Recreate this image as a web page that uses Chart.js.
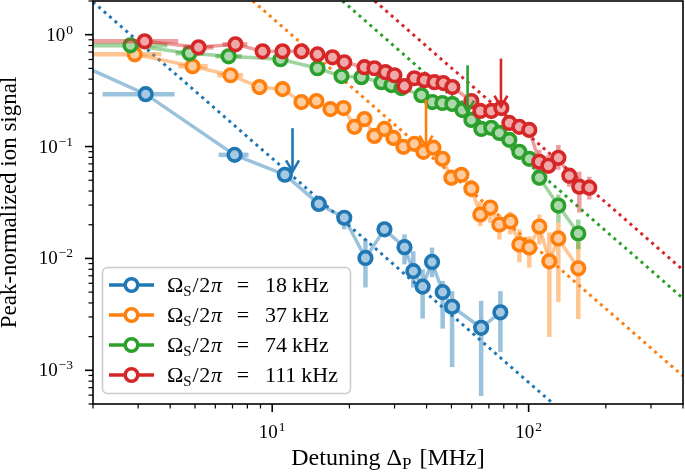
<!DOCTYPE html>
<html>
<head>
<meta charset="utf-8">
<script src="https://cdn.jsdelivr.net/npm/chart.js@4.4.0/dist/chart.umd.min.js"></script>
<style>
  html, body { margin: 0; padding: 0; background: #fff; }
  #chart { display: block; }
</style>
</head>
<body>
<canvas id="chart" width="685" height="472"></canvas>
<script>
// Detuning [MHz] vs peak-normalized ion signal, one set per Rabi frequency
const rabiKHz = ['18', '37', '74', '111'];

const blueDetuning = [1.44, 3.21, 7.13, 11.2, 15.2, 19.1, 23.1, 27.4, 32.8, 35.5, 38.6, 42.0, 46.2, 50.3, 65.3, 77.6];
const blueSignal = [0.67, 0.294, 0.0843, 0.056, 0.0307, 0.0231, 0.0101, 0.0182, 0.0126, 0.0077, 0.0056, 0.0093, 0.0050, 0.0037, 0.0024, 0.0033];
const blueSignalErr = [null, null, null, [0.0495, 0.0608], [0.0283, 0.0334], [0.0182, 0.0263], [0.0055, 0.0148], [0.0164, 0.0201],
  [0.00886, 0.0164], [0.0055, 0.0116], [0.0029, 0.0080], [0.0068, 0.0125], [0.00236, 0.0063], [0.00107, 0.0051], [0.00059, 0.00418], [0.00146, 0.0051]];
const blueDetuningErr = [null, [2.18, 4.16], [6.18, 8.08]];

const orangeDetuning = [2.91, 4.89, 6.88, 8.92, 10.97, 13.0, 14.88, 16.87, 18.97, 20.93, 22.89, 25.04, 27.4, 29.7, 32.49, 35.85,
  38.87, 42.52, 46.1, 49.96, 54.68, 59.8, 64.81, 70.9, 76.88, 84.86, 92.0, 100.6, 110.1, 120.4, 130.6, 156.2];
const orangeSignal = [0.667, 0.522, 0.434, 0.340, 0.326, 0.250, 0.255, 0.216, 0.221, 0.150, 0.176, 0.1245, 0.1437, 0.1195, 0.0994, 0.1057,
  0.0897, 0.0977, 0.0777, 0.0527, 0.056, 0.0420, 0.0247, 0.0285, 0.0201, 0.0214, 0.01334, 0.01255, 0.0193, 0.00942, 0.0151, 0.00816];
const orangeSignalErr = [null, null, null, null, null, null, null, null, null, null, null, null, null, null, null, null,
  null, null, null, [0.0447, 0.0572], [0.0506, 0.0621], [0.0350, 0.0506], [0.0194, 0.0324], [0.0208, 0.0324], [0.0148, 0.0247], [0.0164, 0.0262],
  [0.00925, 0.0182], [0.00828, 0.0158], [0.01334, 0.0247], [0.00199, 0.0171], [0.00407, 0.0210], [0.00287, 0.0139]];
const orangeDetuningErr = [[1.95, 3.7], [4.3, 5.6], [6.1, 7.7]];

const greenDetuning = [2.80, 4.76, 6.76, 10.77, 15.02, 18.63, 22.28, 26.67, 29.17, 31.91, 38.18, 42.14, 46.1, 50.41, 55.17, 59.8,
  65.4, 71.53, 76.88, 84.1, 92.0, 100.6, 110.1, 130.6, 156.2];
const greenSignal = [0.803, 0.682, 0.641, 0.603, 0.501, 0.426, 0.417, 0.376, 0.354, 0.333, 0.288, 0.250, 0.245, 0.240, 0.212, 0.173,
  0.1437, 0.147, 0.1324, 0.1147, 0.0897, 0.0777, 0.0527, 0.0297, 0.0167];
const greenSignalErr = [null, null, null, null, null, null, null, null, null, null, null, null, null, null, null, null,
  null, null, null, null, null, null, [0.0447, 0.0572], [0.0210, 0.0372], [0.0121, 0.0223]];
const greenDetuningErr = [[1.95, 3.9], [4.2, 5.4], [6.0, 7.6]];

const redDetuning = [3.18, 5.16, 7.19, 9.17, 10.97, 13.0, 15.02, 17.18, 19.1, 22.89, 25.04, 27.65, 29.97, 32.78, 35.85, 39.22,
  42.91, 46.52, 50.41, 59.8, 64.81, 71.53, 78.28, 84.1, 92.0, 100.6, 110.1, 119.4, 130.6, 144.1, 157.6, 172.4];
const redSignal = [0.872, 0.771, 0.820, 0.710, 0.710, 0.710, 0.667, 0.628, 0.567, 0.512, 0.501, 0.462, 0.434, 0.347, 0.408, 0.392,
  0.376, 0.369, 0.340, 0.255, 0.208, 0.208, 0.221, 0.1625, 0.150, 0.1408, 0.0731, 0.0673, 0.0793, 0.0549, 0.0438, 0.0429];
const redSignalErr = [null, null, null, null, null, null, null, null, null, null, null, null, null, null, null, null,
  null, null, null, null, null, null, null, null, null, null, [0.0621, 0.0935], [0.0596, 0.0844], [0.0621, 0.1035], [0.0438, 0.0596], [0.0257, 0.0596], [0.0336, 0.0537]];
const redDetuningErr = [[1.95, 4.3], [4.5, 5.9], [6.4, 8.0]];

// dotted power-law guides: start and end points
const fitStart = [[2.0, 1.96], [8.4, 2.0], [18.8, 2.0], [25.1, 2.0]];
const fitEnd = [[125, 5.0e-4], [400, 8.9e-4], [400, 4.4e-3], [400, 7.9e-3]];

// arrows marking the characteristic detuning
const arrowDetuning = [12.0, 39.8, 57.8, 78.0];
const arrowFrom = [0.146, 0.264, 0.533, 0.612];
const arrowTo = [0.060, 0.100, 0.205, 0.227];

const xMajorTicks = [10, 100];
const yMajorTicks = [1e-3, 1e-2, 1e-1, 1];

const colors = ['#1f77b4', '#ff7f0e', '#2ca02c', '#d62728'];
const rgbs = [[31, 119, 180], [255, 127, 14], [44, 160, 44], [214, 39, 40]];
const FONT = '"Liberation Serif", "Times New Roman", serif';

function rgba(c, a) { return 'rgba(' + c[0] + ',' + c[1] + ',' + c[2] + ',' + a + ')'; }
function pale(c) { return 'rgb(' + c.map(v => Math.round(255 * 0.6 + v * 0.4)).join(',') + ')'; }

function series(i, xs, ys, yErr, xErr) {
    return {
        data: xs.map((x, k) => ({ x: x, y: ys[k] })),
        borderColor: rgba(rgbs[i], 0.45),
        borderWidth: 3.5,
        pointRadius: 6.3,
        pointHoverRadius: 6.3,
        pointBorderWidth: 3.6,
        pointBorderColor: colors[i],
        pointBackgroundColor: pale(rgbs[i]),
        tension: 0,
        fill: false,
        clip: 0,
        order: 4 - i,
        errY: yErr,
        errX: xErr,
        errColor: rgba(rgbs[i], 0.45)
    };
}

function fitLine(i) {
    return {
        data: [{ x: fitStart[i][0], y: fitStart[i][1] }, { x: fitEnd[i][0], y: fitEnd[i][1] }],
        borderColor: colors[i],
        borderWidth: 3,
        borderDash: [3, 4.2],
        pointRadius: 0,
        fill: false,
        clip: 0,
        order: 10 + i
    };
}

function logTicks(min, max) {
    const out = [];
    for (let e = Math.floor(Math.log10(min)); e <= Math.ceil(Math.log10(max)); e++) {
        for (let k = 1; k <= 9; k++) {
            const v = k * Math.pow(10, e);
            if (v >= min * 0.999 && v <= max * 1.001) out.push({ value: v, major: k === 1 });
        }
    }
    return out;
}

// error bars, drawn under each series' markers
const errorBars = {
    id: 'errorBars',
    beforeDatasetDraw(chart, args) {
        const ds = chart.data.datasets[args.index];
        if (!ds.errY && !ds.errX) return;
        const ctx = chart.ctx, a = chart.chartArea;
        const xs = chart.scales.x, ys = chart.scales.y;
        ctx.save();
        ctx.beginPath();
        ctx.rect(a.left, a.top, a.right - a.left, a.bottom - a.top);
        ctx.clip();
        ctx.strokeStyle = ds.errColor;
        ctx.lineWidth = 4.5;
        ds.data.forEach((p, k) => {
            const px = xs.getPixelForValue(p.x), py = ys.getPixelForValue(p.y);
            const ey = ds.errY && ds.errY[k];
            if (ey) {
                ctx.beginPath();
                ctx.moveTo(px, ys.getPixelForValue(ey[0]));
                ctx.lineTo(px, ys.getPixelForValue(ey[1]));
                ctx.stroke();
            }
            const ex = ds.errX && ds.errX[k];
            if (ex) {
                ctx.beginPath();
                ctx.moveTo(xs.getPixelForValue(ex[0]), py);
                ctx.lineTo(xs.getPixelForValue(ex[1]), py);
                ctx.stroke();
            }
        });
        ctx.restore();
    }
};

function drawPow(ctx, x, y, exp, align) {
    ctx.font = '19px ' + FONT;
    const wBase = ctx.measureText('10').width;
    ctx.font = '13.5px ' + FONT;
    const wExp = ctx.measureText(exp).width;
    const total = wBase + 1 + wExp;
    const start = align === 'center' ? x - total / 2 : x - total;
    ctx.textAlign = 'left';
    ctx.textBaseline = 'alphabetic';
    ctx.font = '19px ' + FONT;
    ctx.fillText('10', start, y);
    ctx.font = '13.5px ' + FONT;
    ctx.fillText(exp, start + wBase + 1, y - 7);
}

function drawPieces(ctx, pieces, x, y) {
    pieces.forEach(p => {
        ctx.font = p.font;
        ctx.fillText(p.text, x, y + (p.dy || 0));
        x += ctx.measureText(p.text).width + (p.gap || 0);
    });
    return x;
}
function piecesWidth(ctx, pieces) {
    let w = 0;
    pieces.forEach(p => { ctx.font = p.font; w += ctx.measureText(p.text).width + (p.gap || 0); });
    return w;
}

const frame = {
    id: 'frame',
    afterDatasetsDraw(chart) {
        const ctx = chart.ctx, xs = chart.scales.x, ys = chart.scales.y;
        ctx.save();
        arrowDetuning.forEach((d, i) => {
            const x = xs.getPixelForValue(d);
            const y0 = ys.getPixelForValue(arrowFrom[i]), y1 = ys.getPixelForValue(arrowTo[i]);
            ctx.strokeStyle = colors[i];
            ctx.lineWidth = 2.6;
            ctx.beginPath(); ctx.moveTo(x, y0); ctx.lineTo(x, y1); ctx.stroke();
            ctx.beginPath(); ctx.moveTo(x - 6.5, y1 - 11); ctx.lineTo(x, y1); ctx.lineTo(x + 6.5, y1 - 11); ctx.stroke();
        });
        ctx.restore();
    },
    afterDraw(chart) {
        const ctx = chart.ctx, a = chart.chartArea;
        const xs = chart.scales.x, ys = chart.scales.y;
        ctx.save();
        ctx.fillStyle = '#000';
        ctx.strokeStyle = '#000';

        // ticks
        xs.ticks.forEach(t => {
            const px = xs.getPixelForValue(t.value);
            ctx.lineWidth = t.major ? 1.6 : 1.2;
            ctx.beginPath(); ctx.moveTo(px, a.bottom); ctx.lineTo(px, a.bottom + (t.major ? 8 : 4.5)); ctx.stroke();
        });
        ys.ticks.forEach(t => {
            const py = ys.getPixelForValue(t.value);
            ctx.lineWidth = t.major ? 1.6 : 1.2;
            ctx.beginPath(); ctx.moveTo(a.left, py); ctx.lineTo(a.left - (t.major ? 8 : 4.5), py); ctx.stroke();
        });
        xMajorTicks.forEach(v => {
            drawPow(ctx, xs.getPixelForValue(v), 438, String(Math.round(Math.log10(v))), 'center');
        });
        yMajorTicks.forEach(v => {
            const e = Math.round(Math.log10(v));
            drawPow(ctx, 73, ys.getPixelForValue(v) + 6, e < 0 ? '\u2212' + (-e) : String(e), 'right');
        });

        // spines
        ctx.lineWidth = 1.6;
        ctx.strokeRect(a.left, a.top, a.right - a.left, a.bottom - a.top);

        // axis titles
        ctx.textAlign = 'left';
        ctx.textBaseline = 'alphabetic';
        const xt = [
            { text: 'Detuning \u0394', font: '24px ' + FONT },
            { text: 'P', font: '17px ' + FONT, dy: 4, gap: 8 },
            { text: '[MHz]', font: '24px ' + FONT }
        ];
        const xw = piecesWidth(ctx, xt);
        drawPieces(ctx, xt, (a.left + a.right) / 2 - xw / 2, 465);

        ctx.save();
        ctx.translate(16, (a.top + a.bottom) / 2);
        ctx.rotate(-Math.PI / 2);
        ctx.font = '23px ' + FONT;
        ctx.textAlign = 'center';
        ctx.fillText('Peak-normalized ion signal', 0, 0);
        ctx.restore();

        // legend
        ctx.beginPath();
        ctx.roundRect(102.5, 267.5, 248, 126, 5);
        ctx.fillStyle = 'rgba(255,255,255,0.8)';
        ctx.fill();
        ctx.strokeStyle = '#cccccc';
        ctx.lineWidth = 1.5;
        ctx.stroke();
        rabiKHz.forEach((k, i) => {
            const cy = 285 + i * 30;
            ctx.strokeStyle = colors[i];
            ctx.lineWidth = 3.5;
            ctx.beginPath(); ctx.moveTo(109, cy); ctx.lineTo(154, cy); ctx.stroke();
            ctx.beginPath(); ctx.arc(131.5, cy, 6.3, 0, 2 * Math.PI);
            ctx.fillStyle = '#fff'; ctx.fill(); ctx.stroke();

            ctx.fillStyle = '#000';
            ctx.textAlign = 'left';
            // Omega_S / 2 pi, stretched to the reference span of about 55 px
            const prefix = [
                { text: '\u03a9', font: '22px ' + FONT },
                { text: 'S', font: '15px ' + FONT, dy: 4 },
                { text: '/', font: '22px ' + FONT },
                { text: '2', font: '22px ' + FONT },
                { text: '\u03c0', font: 'italic 22px ' + FONT }
            ];
            const extra = Math.max(0, 55 - piecesWidth(ctx, prefix)) / 3;
            prefix[1].gap = extra; prefix[2].gap = extra; prefix[3].gap = extra;
            drawPieces(ctx, prefix, 167, cy + 7);
            ctx.font = '22px ' + FONT;
            ctx.textAlign = 'center';
            ctx.fillText('=', 243, cy + 7);
            ctx.textAlign = 'left';
            const wNum = ctx.measureText(k).width;
            ctx.fillText(k, 265, cy + 7);
            ctx.fillText('kHz', 265 + wNum + 5, cy + 7);
        });
        ctx.restore();
    }
};

const ctx = document.getElementById('chart').getContext('2d');
new Chart(ctx, {
    type: 'line',
    data: {
        datasets: [
            series(0, blueDetuning, blueSignal, blueSignalErr, blueDetuningErr),
            series(1, orangeDetuning, orangeSignal, orangeSignalErr, orangeDetuningErr),
            series(2, greenDetuning, greenSignal, greenSignalErr, greenDetuningErr),
            series(3, redDetuning, redSignal, redSignalErr, redDetuningErr),
            fitLine(0), fitLine(1), fitLine(2), fitLine(3)
        ]
    },
    options: {
        responsive: false,
        animation: false,
        devicePixelRatio: 1,
        events: [],
        layout: { autoPadding: false, padding: { top: 1, right: 2, left: 0, bottom: 0 } },
        scales: {
            x: {
                type: 'logarithmic',
                min: 2,
                max: 400,
                afterBuildTicks: s => { s.ticks = logTicks(s.min, s.max); },
                afterFit: s => { s.height = 68; },
                ticks: { display: false },
                grid: { display: false },
                border: { display: false }
            },
            y: {
                type: 'logarithmic',
                min: 5e-4,
                max: 2,
                afterBuildTicks: s => { s.ticks = logTicks(s.min, s.max); },
                afterFit: s => { s.width = 93; },
                ticks: { display: false },
                grid: { display: false },
                border: { display: false }
            }
        },
        plugins: {
            legend: { display: false },
            tooltip: { enabled: false }
        }
    },
    plugins: [errorBars, frame]
});
</script>
</body>
</html>
